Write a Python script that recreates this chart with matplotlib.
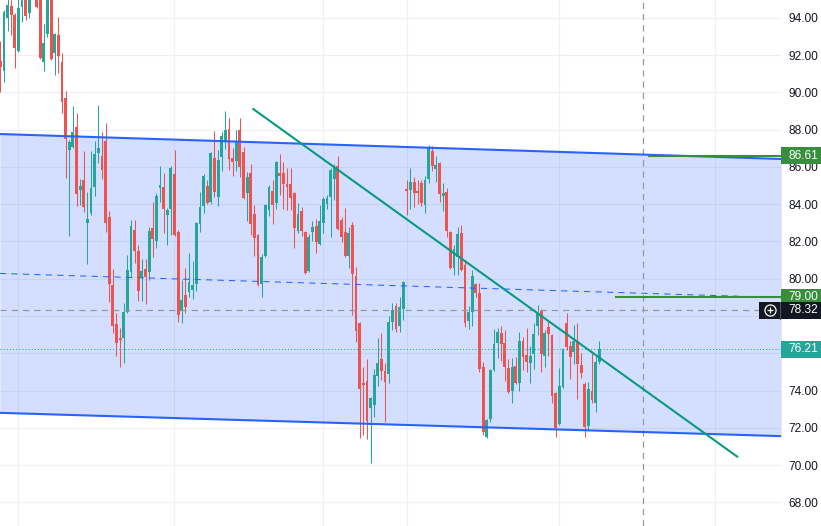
import matplotlib
matplotlib.use('Agg')
import matplotlib.pyplot as plt
import matplotlib.transforms as mtransforms
from matplotlib.patches import Rectangle
import numpy as np

# OHLC (one candle per bar, left to right)
opens = [91.69, 91.15, 94.00, 94.64, 94.16, 92.23, 94.59, 95.40, 94.27, 95.60,
         95.50, 95.30, 91.64, 93.14, 95.10, 92.12, 93.09, 91.64, 89.70, 86.91,
         87.07, 88.15, 84.77, 85.30, 82.99, 83.53, 84.93, 86.75, 86.59, 87.40,
         83.31, 79.66, 77.57, 76.82, 76.82, 78.21, 80.36, 82.62, 81.49, 80.04,
         80.52, 80.36, 82.72, 82.03, 84.87, 84.93, 83.42, 83.74, 85.62, 82.51,
         78.27, 79.13, 79.29, 79.40, 79.72, 82.94, 83.91, 84.98, 84.12, 86.48,
         84.39, 86.54, 87.40, 88.04, 86.48, 86.32, 87.99, 86.81, 84.60, 85.68,
         83.48, 82.35, 79.72, 81.22, 83.69, 84.71, 84.07, 85.68, 85.68, 85.09,
         85.09, 84.60, 82.56, 83.64, 82.51, 80.42, 82.51, 82.83, 81.87, 82.99,
         84.01, 84.39, 85.36, 86.05, 83.15, 82.51, 81.22, 82.89, 80.15, 77.62,
         74.40, 74.51, 73.06, 73.22, 74.78, 75.69, 75.05, 74.89, 77.68, 78.54,
         77.46, 78.38, 84.82, 84.77, 85.19, 84.71, 85.14, 83.96, 85.36, 86.86,
         85.89, 86.21, 84.44, 84.66, 82.51, 80.58, 81.17, 82.46, 80.74, 77.73,
         78.21, 79.72, 79.24, 75.26, 71.50, 72.47, 75.10, 76.55, 77.09, 76.55,
         75.21, 73.97, 75.32, 74.40, 76.66, 75.91, 75.48, 75.96, 77.46, 78.27,
         75.85, 77.41, 76.98, 73.87, 72.20, 74.19, 77.62, 76.39, 76.07, 76.66,
         75.37, 74.35, 72.09, 73.97, 73.33, 75.53]
highs = [92.77, 94.43, 95.20, 95.30, 94.27, 95.20, 95.60, 95.70, 95.60, 96.20,
         95.90, 95.60, 93.68, 95.40, 95.40, 93.19, 94.05, 92.12, 90.08, 87.45,
         89.27, 88.90, 85.36, 86.86, 84.66, 86.86, 87.40, 89.33, 87.88, 88.36,
         83.64, 80.52, 78.16, 77.36, 78.70, 81.28, 83.15, 83.15, 81.81, 81.06,
         81.06, 82.78, 84.12, 84.60, 86.05, 85.68, 83.80, 86.05, 86.91, 82.62,
         79.93, 80.58, 81.38, 80.95, 83.05, 84.66, 85.62, 85.30, 86.81, 87.93,
         86.91, 87.88, 89.01, 88.63, 87.02, 87.99, 88.63, 87.07, 85.73, 86.16,
         83.96, 82.40, 81.33, 84.01, 85.03, 85.30, 86.32, 86.70, 86.27, 85.95,
         85.95, 84.66, 84.07, 83.85, 82.56, 82.40, 83.10, 83.21, 83.96, 84.39,
         84.50, 85.95, 86.16, 86.59, 83.31, 83.80, 82.78, 83.05, 80.63, 77.68,
         75.26, 75.69, 73.65, 75.15, 76.82, 77.09, 75.48, 77.99, 78.70, 78.70,
         79.02, 79.88, 85.30, 85.95, 85.46, 85.30, 85.30, 85.52, 87.18, 87.13,
         86.59, 86.27, 85.14, 84.87, 82.56, 81.81, 82.78, 82.89, 81.01, 78.54,
         80.47, 79.77, 79.77, 75.53, 72.47, 75.15, 77.30, 77.36, 77.46, 77.25,
         75.69, 75.74, 75.80, 77.14, 76.87, 77.36, 76.39, 77.62, 78.59, 78.38,
         77.25, 77.78, 77.03, 73.92, 75.21, 76.28, 78.16, 76.66, 77.52, 77.62,
         76.01, 74.46, 74.46, 76.01, 75.85, 76.66]
lows = [90.03, 90.56, 93.30, 93.09, 91.32, 92.17, 93.78, 93.89, 94.00, 95.10,
        94.54, 91.80, 91.15, 92.98, 91.77, 90.94, 91.05, 88.90, 85.41, 82.30,
        87.02, 83.91, 83.96, 83.58, 80.79, 83.42, 84.44, 86.21, 85.36, 82.51,
        78.75, 77.09, 75.85, 75.26, 75.48, 78.16, 80.09, 80.84, 78.81, 78.81,
        78.64, 79.93, 81.17, 81.65, 84.12, 82.46, 81.81, 82.35, 82.30, 77.68,
        77.62, 78.16, 79.02, 78.91, 79.34, 82.51, 83.53, 84.01, 84.01, 84.39,
        83.91, 85.79, 86.97, 85.84, 85.52, 85.79, 85.46, 84.28, 83.10, 82.35,
        81.22, 79.61, 79.02, 81.17, 83.37, 82.94, 83.74, 84.50, 83.74, 83.69,
        83.69, 81.65, 82.46, 82.30, 80.25, 80.36, 82.03, 81.38, 81.81, 82.46,
        83.74, 82.24, 84.23, 82.62, 81.97, 81.17, 80.58, 78.05, 76.60, 71.45,
        71.61, 71.40, 70.11, 72.58, 74.24, 74.56, 72.31, 74.40, 77.25, 77.14,
        77.14, 77.78, 83.42, 83.74, 83.85, 84.01, 83.91, 83.53, 85.14, 85.79,
        85.19, 84.12, 83.64, 82.24, 80.52, 80.20, 80.20, 80.42, 77.41, 77.30,
        77.46, 79.02, 75.00, 71.61, 71.45, 72.31, 75.05, 75.74, 75.58, 74.51,
        73.87, 73.33, 74.35, 73.97, 75.10, 75.00, 74.40, 75.15, 76.98, 75.00,
        75.26, 75.85, 73.33, 71.50, 72.15, 74.13, 76.17, 74.62, 75.42, 73.54,
        74.67, 71.50, 71.88, 73.33, 72.85, 75.42]
closes = [91.37, 94.32, 94.70, 94.16, 92.39, 94.54, 95.30, 94.11, 95.30, 95.80,
          94.59, 91.85, 92.66, 95.10, 91.80, 93.14, 91.96, 89.49, 87.50, 87.34,
          87.88, 84.55, 84.98, 83.85, 83.21, 84.87, 86.70, 87.02, 85.84, 82.99,
          79.72, 77.46, 76.55, 76.71, 78.21, 80.47, 82.83, 81.49, 79.34, 80.42,
          80.09, 82.56, 82.13, 84.44, 85.03, 83.74, 83.69, 85.95, 82.35, 78.05,
          78.86, 78.48, 79.83, 79.66, 82.99, 83.85, 85.52, 84.07, 86.75, 84.66,
          86.37, 87.66, 87.99, 86.43, 86.27, 87.34, 86.00, 84.34, 85.46, 82.94,
          82.19, 79.66, 81.17, 83.96, 84.93, 83.96, 86.27, 85.52, 85.09, 84.93,
          84.34, 82.72, 83.48, 82.56, 80.31, 82.24, 82.78, 81.97, 83.10, 84.28,
          84.34, 85.84, 86.00, 82.67, 82.24, 81.22, 82.46, 80.25, 77.19, 74.08,
          74.30, 72.36, 73.60, 74.83, 75.48, 75.05, 74.46, 77.68, 78.32, 77.30,
          78.48, 79.83, 84.71, 85.19, 84.60, 84.60, 84.07, 85.30, 87.02, 86.05,
          86.11, 84.55, 84.60, 82.56, 80.58, 81.60, 82.40, 80.47, 77.62, 78.21,
          80.15, 79.24, 75.16, 71.77, 72.42, 75.10, 76.50, 77.14, 76.50, 75.26,
          73.92, 75.26, 74.40, 76.66, 75.80, 75.53, 75.85, 77.03, 78.21, 75.96,
          77.09, 77.03, 73.70, 71.99, 74.24, 76.23, 76.34, 75.80, 76.66, 75.42,
          74.94, 72.04, 74.08, 73.49, 75.53, 76.21]

price_ticks = [68, 70, 72, 74, 76, 78, 80, 82, 84, 86, 88, 90, 92, 94]
hidden_ticks = [76, 78]  # covered by the price tags on the scale
time_grid = [4.9, 47.9, 88.9, 112.0, 153.9, 196.9]

# drawings
channel_x = [-0.1, 215.1]
channel_top = [87.77, 86.43]
channel_bottom = [72.80, 71.55]
trend_x = [69.7, 203.0]
trend_y = [89.11, 70.45]
level_hi, level_hi_start = 86.61, 178.7
level_79, level_79_start = 79.00, 169.6
cross_price, cross_x = 78.32, 177.0
last_price = 76.21

UP = '#26a69a'
DOWN = '#ef5350'
BLUE = '#2962ff'
GREEN = '#388e3c'

fig = plt.figure(figsize=(8.21, 5.26), dpi=100)
ax = fig.add_axes([0, 0, 781 / 821, 1])
ax.set_xlim(-0.083, 215.07)
ax.set_ylim(66.725, 94.966)
for s in ax.spines.values():
    s.set_visible(False)

ax.set_yticks(price_ticks)
ax.set_yticklabels(['' if p in hidden_ticks else '%.2f' % p for p in price_ticks])
ax.yaxis.tick_right()
ax.tick_params(axis='y', length=0, pad=5.5, labelsize=8.6, labelcolor='#131722')
for lab in ax.get_yticklabels():
    lab.set_fontfamily('Liberation Sans')
ax.set_xticks(time_grid)
ax.set_xticklabels([])
ax.tick_params(axis='x', length=0)
ax.grid(True, color='#eef0f5', lw=0.9)
ax.set_axisbelow(True)

# channel
ax.fill_between(channel_x, channel_bottom, channel_top, color=BLUE, alpha=0.2, lw=0, zorder=1)
ax.plot(channel_x, channel_top, color=BLUE, lw=1.5, zorder=5)
ax.plot(channel_x, channel_bottom, color=BLUE, lw=1.5, zorder=5)
mid = [(a + b) / 2 for a, b in zip(channel_top, channel_bottom)]
ax.plot(channel_x, mid, color=BLUE, lw=0.75, dashes=(6, 5), zorder=5)

# candles
x = np.arange(len(opens))
o = np.array(opens); c = np.array(closes)
cols = [UP if cc >= oo else DOWN for oo, cc in zip(o, c)]
ax.vlines(x, lows, highs, colors=cols, lw=0.75, zorder=3)
h = np.maximum(np.abs(c - o), 0.06)
ax.bar(x, h, bottom=np.minimum(o, c), width=0.78, color=cols, lw=0, zorder=3)

# lines
ax.plot(trend_x, trend_y, color='#089981', lw=1.5, zorder=6)
ax.plot([level_hi_start, 215.07], [level_hi, level_hi], color=GREEN, lw=1.5, zorder=6)
ax.plot([level_79_start, 215.07], [level_79, level_79], color=GREEN, lw=1.5, zorder=6)
ax.axhline(cross_price, color='#9598a1', lw=0.9, dashes=(5, 4), zorder=4)
ax.axvline(cross_x, color='#9598a1', lw=0.9, dashes=(5, 4), zorder=4)
ax.axhline(last_price, color=UP, lw=0.75, dashes=(1, 2), zorder=4)

# price labels on the scale
blend = mtransforms.blended_transform_factory(fig.transFigure, ax.transData)
bh = 17 / 18.625


def price_tag(p, bg, x0=781):
    ax.add_patch(Rectangle((x0 / 821, p - bh / 2), (821 - x0) / 821, bh, transform=blend,
                           facecolor=bg, edgecolor='none', clip_on=False, zorder=10))
    ax.text(803 / 821, p, '%.2f' % p, transform=blend, ha='center', va='center',
            color='white', fontsize=8.6, family='Liberation Sans', clip_on=False, zorder=11)


price_tag(level_hi, GREEN)
price_tag(level_79, GREEN)
price_tag(cross_price, '#131722', x0=759)
price_tag(last_price, UP)
ax.plot([780 / 821, 780 / 821], [cross_price - bh / 2, cross_price + bh / 2], transform=blend,
        color='#50535e', lw=0.8, clip_on=False, zorder=12)
ax.plot([769.5 / 821], [cross_price], transform=blend, marker='o', ms=8, mfc='none',
        mec='white', mew=0.9, clip_on=False, zorder=12)
ax.plot([769.5 / 821], [cross_price], transform=blend, marker='+', ms=5, mec='white',
        mew=0.9, clip_on=False, zorder=12)

fig.savefig('out.png', dpi=100)
